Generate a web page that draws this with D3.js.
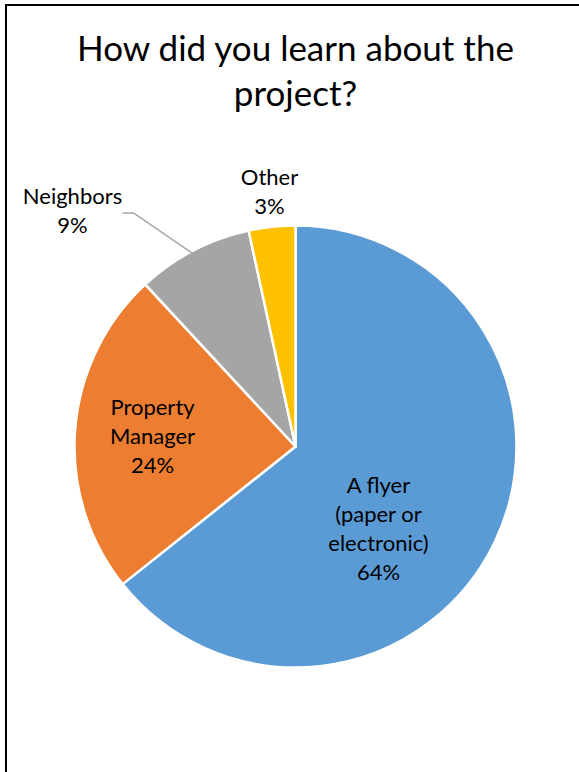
<!DOCTYPE html>
<html>
<head>
<meta charset="utf-8">
<script src="https://cdn.jsdelivr.net/npm/d3@7"></script>
<style>
  html, body { margin: 0; padding: 0; background: #fff; }
  svg { display: block; }
  text { font-family: Lato, "Open Sans", sans-serif; fill: #000; }
</style>
</head>
<body>
<svg id="chart" width="579" height="772"></svg>
<script>
// ---- data ----
const titleLines = ["How did you learn about the", "project?"];
const categories = ["A flyer (paper or electronic)", "Property Manager", "Neighbors", "Other"];
const labelLines = [["A flyer", "(paper or", "electronic)"], ["Property", "Manager"], ["Neighbors"], ["Other"]];
const values = [64.3, 23.8, 8.5, 3.4];
const colors = ["#5B9BD5", "#ED7D31", "#A5A5A5", "#FFC000"];

// ---- layout ----
const W = 579, H = 772;
const cx = 295.5, cy = 446.5, R = 221;
// label anchor: offset (in px) from pie centre, for each slice
const labelOffsets = [[83, 83], [-143, -10], [-223, -235], [-26, -254]];
const lineH = 29;

const svg = d3.select("#chart");

// frame (left and top rules)
svg.append("line").attr("x1", 6).attr("y1", 5).attr("x2", 579).attr("y2", 5)
  .attr("stroke", "#000").attr("stroke-width", 2);
svg.append("line").attr("x1", 6).attr("y1", 4).attr("x2", 6).attr("y2", H)
  .attr("stroke", "#000").attr("stroke-width", 2);

// title
svg.append("text")
  .attr("text-anchor", "middle")
  .attr("font-size", 35)
  .selectAll("tspan").data(titleLines).join("tspan")
  .attr("x", cx).attr("y", (d, i) => 61 + i * 45)
  .text(d => d);

const pie = d3.pie().sort(null).value(d => d)(values);
const arc = d3.arc().innerRadius(0).outerRadius(R);
const color = d3.scaleOrdinal().domain(d3.range(values.length)).range(colors);

const g = svg.append("g").attr("transform", `translate(${cx},${cy})`);
g.selectAll("path").data(pie).join("path")
  .attr("d", arc)
  .attr("fill", (d, i) => color(i))
  .attr("stroke", "#fff")
  .attr("stroke-width", 2.5)
  .attr("stroke-linejoin", "round");

// leader line for Neighbors
const nb = pie[2];
const mid = (nb.startAngle + nb.endAngle) / 2;
const tip = [Math.sin(mid) * (R - 6), -Math.cos(mid) * (R - 6)];
const lo = labelOffsets[2];
g.append("polyline")
  .attr("points", [[lo[0] + 50, lo[1] + 1.5], [lo[0] + 61, lo[1] + 1.5], tip].map(p => p.join(",")).join(" "))
  .attr("fill", "none").attr("stroke", "#A5A5A5").attr("stroke-width", 1.5);

// labels
const fmt = d3.format(".0f");
const labels = g.selectAll("text.lbl").data(pie).join("text")
  .attr("class", "lbl")
  .attr("text-anchor", "middle")
  .attr("font-size", 22);
labels.each(function (d, i) {
  const lines = labelLines[i].concat([fmt(d.value) + "%"]);
  const n = lines.length;
  const [ox, oy] = labelOffsets[i];
  d3.select(this).selectAll("tspan").data(lines).join("tspan")
    .attr("x", ox)
    .attr("y", (t, k) => oy - (n - 1) * lineH / 2 + k * lineH + 7)
    .text(t => t);
});
</script>
</body>
</html>
